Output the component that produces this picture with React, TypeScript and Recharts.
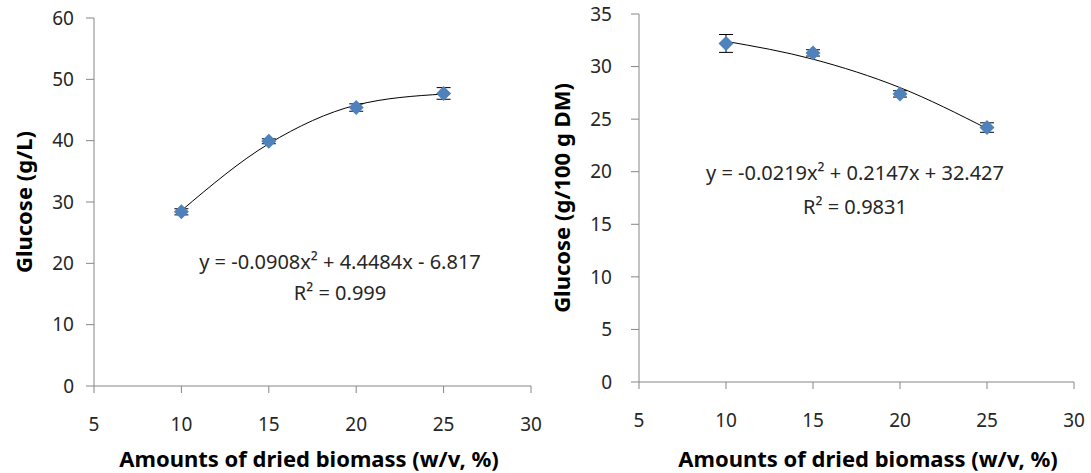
import {ComposedChart, ErrorBar, Line, Scatter, XAxis, YAxis} from "recharts";

// x: amounts of dried biomass (w/v, %)
const biomass = [10, 15, 20, 25];
const xTicks = [5, 10, 15, 20, 25, 30];

// left panel: glucose concentration (g/L)
const glucoseGL = [28.4, 39.9, 45.4, 47.7];
const glucoseGLErr = [0.5, 0.4, 0.6, 0.95];
const glucoseGLFit = [28.6, 39.5, 45.8, 47.6];
const glTicks = [0, 10, 20, 30, 40, 50, 60];

// right panel: glucose yield (g/100 g DM)
const glucoseYield = [32.2, 31.3, 27.4, 24.2];
const glucoseYieldErr = [0.85, 0.3, 0.3, 0.45];
const glucoseYieldFit = [32.4, 30.7, 28.0, 24.1];
const yieldTicks = [0, 5, 10, 15, 20, 25, 30, 35];

const AXIS = "#868686";
const TEXT = "#262626";
const MARKER = "#4F81BD";
const FONT = "'Noto Sans', 'Open Sans', sans-serif";

const tickStyle = {fontSize: 19, fill: TEXT, fontFamily: FONT};

function Diamond(props: any) {
  const {cx, cy} = props;
  if (cx == null || cy == null) return null;
  const r = 7.5;
  return (
    <path
      d={`M${cx},${cy - r}L${cx + r},${cy}L${cx},${cy + r}L${cx - r},${cy}Z`}
      fill={MARKER}
    />
  );
}

const NoMark = () => null;

interface PanelProps {
  left: number;
  width: number;
  values: number[];
  errors: number[];
  fit: number[];
  yTicks: number[];
  margin: {top: number; right: number; bottom: number; left: number};
  xAxisHeight: number;
  yTickMargin: number;
  yTitle: string;
  yTitleX: number;
  xTitleX: number;
  equation: string;
  r2: string;
  eqX: number;
  eqY: number;
  r2Y: number;
}

function Panel(p: PanelProps) {
  const rows = biomass.map((x, i) => ({x, y: p.values[i], err: p.errors[i], fit: p.fit[i]}));
  const height = 473;
  const yMax = p.yTicks[p.yTicks.length - 1];

  return (
    <div style={{position: "absolute", left: p.left, top: 0, width: p.width, height}}>
      <ComposedChart width={p.width} height={height} data={rows} margin={p.margin}>
        <XAxis
          type="number"
          dataKey="x"
          domain={[5, 30]}
          ticks={xTicks}
          stroke={AXIS}
          tick={tickStyle}
          tickSize={7}
          tickMargin={25}
          height={p.xAxisHeight}
          label={{
            content: () => (
              <text
                x={p.xTitleX}
                y={458}
                textAnchor="middle"
                dominantBaseline="central"
                fontFamily={FONT}
                fontWeight="bold"
                fontSize={22}
                fill="#000"
              >
                Amounts of dried biomass (w/v, %)
              </text>
            ),
          }}
        />
        <YAxis
          type="number"
          domain={[0, yMax]}
          ticks={p.yTicks}
          stroke={AXIS}
          tick={tickStyle}
          tickSize={8}
          tickMargin={p.yTickMargin}
          width={60}
          label={{
            content: (props: any) => {
              const vb = props.viewBox;
              const cy = vb.y + vb.height / 2;
              return (
                <text
                  x={p.yTitleX}
                  y={cy}
                  transform={`rotate(-90 ${p.yTitleX} ${cy})`}
                  textAnchor="middle"
                  dominantBaseline="central"
                  fontFamily={FONT}
                  fontWeight="bold"
                  fontSize={22}
                  fill="#000"
                >
                  {p.yTitle}
                </text>
              );
            },
          }}
        />
        <Scatter dataKey="y" shape={<NoMark />} isAnimationActive={false}>
          <ErrorBar dataKey="err" direction="y" width={7} stroke="#000" strokeWidth={1} />
        </Scatter>
        <Scatter dataKey="y" shape={<Diamond />} isAnimationActive={false} />
        <Line
          type="monotone"
          dataKey="fit"
          stroke="#000"
          strokeWidth={1}
          dot={false}
          activeDot={false}
          isAnimationActive={false}
        />
      </ComposedChart>
      <div style={{...eqStyle, left: p.eqX, top: p.eqY}}>{p.equation}</div>
      <div style={{...eqStyle, left: p.eqX, top: p.r2Y}}>{p.r2}</div>
    </div>
  );
}

const eqStyle: React.CSSProperties = {
  position: "absolute",
  transform: "translate(-50%, -50%)",
  whiteSpace: "nowrap",
  fontFamily: FONT,
  fontSize: 20,
  color: TEXT,
  lineHeight: 1,
};

export default function App() {
  return (
    <div style={{position: "absolute", left: 0, top: 0, width: 1091, height: 473, background: "#fff"}}>
      <Panel
        left={0}
        width={545}
        values={glucoseGL}
        errors={glucoseGLErr}
        fit={glucoseGLFit}
        yTicks={glTicks}
        margin={{top: 18, right: 14, bottom: 0, left: 34}}
        xAxisHeight={87}
        yTickMargin={12}
        yTitle="Glucose (g/L)"
        yTitleX={23}
        xTitleX={309}
        equation="y = -0.0908x² + 4.4484x - 6.817"
        r2="R² = 0.999"
        eqX={340}
        eqY={262}
        r2Y={293}
      />
      <Panel
        left={545}
        width={546}
        values={glucoseYield}
        errors={glucoseYieldErr}
        fit={glucoseYieldFit}
        yTicks={yieldTicks}
        margin={{top: 14, right: 17, bottom: 0, left: 34}}
        xAxisHeight={91}
        yTickMargin={19}
        yTitle="Glucose (g/100 g DM)"
        yTitleX={16}
        xTitleX={323}
        equation="y = -0.0219x² + 0.2147x + 32.427"
        r2="R² = 0.9831"
        eqX={310}
        eqY={173}
        r2Y={207}
      />
    </div>
  );
}
